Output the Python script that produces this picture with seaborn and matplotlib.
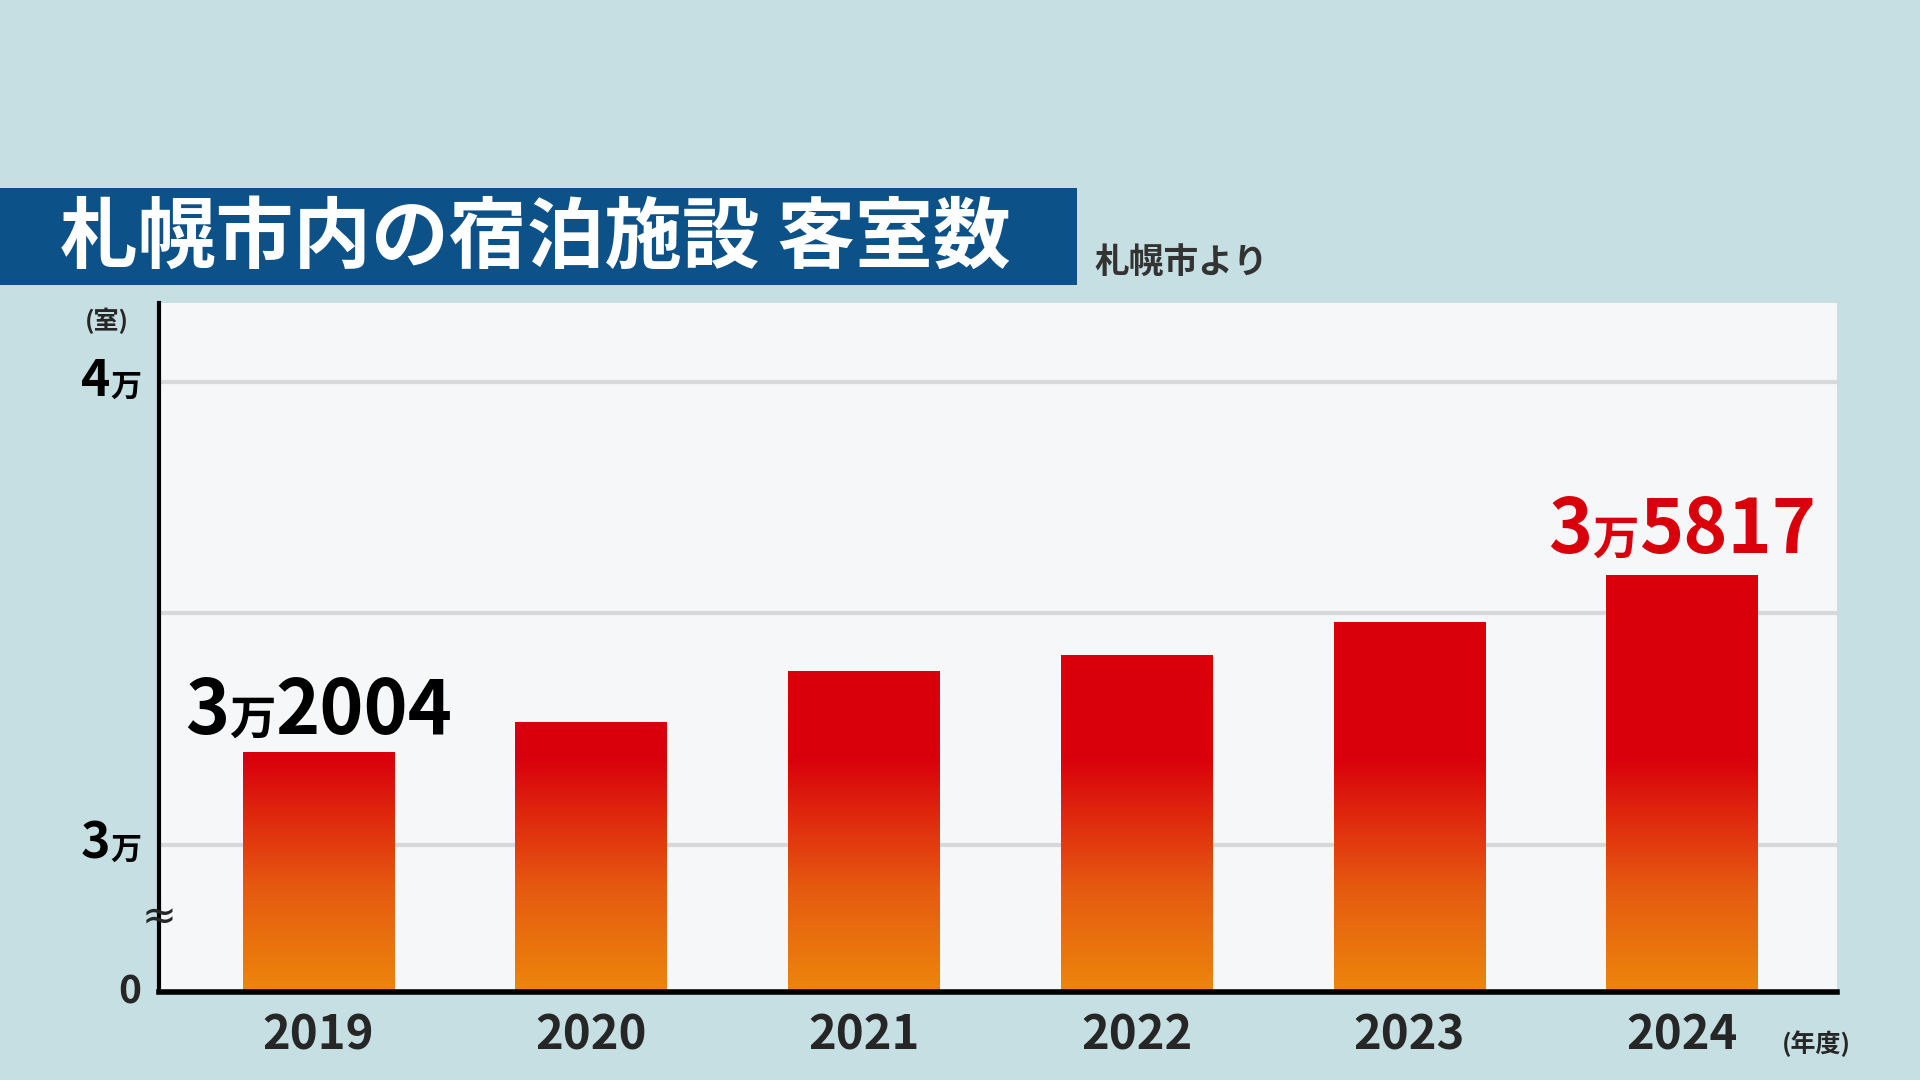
import numpy as np
import pandas as pd
import matplotlib
matplotlib.use("Agg")
import matplotlib.pyplot as plt
from matplotlib.colors import LinearSegmentedColormap
import seaborn as sns

years = ["2019", "2020", "2021", "2022", "2023", "2024"]
rooms = [32004, 32650, 33760, 34100, 34815, 35817]

sns.set_style("white")
plt.rcParams['font.family'] = ['Noto Sans CJK JP', 'DejaVu Sans']

BG = "#c5dfe3"
RED = "#d9000c"
K = 120 / 378.0  # compressed height of 0-3万 segment (in 万 units)


def fwd(v):
    v = np.asarray(v, dtype=float)
    return np.where(v <= 30000, v / 30000 * K, K + (v - 30000) / 10000)


def inv(u):
    u = np.asarray(u, dtype=float)
    return np.where(u <= K, u / K * 30000, 30000 + (u - K) * 10000)


fig = plt.figure(figsize=(19.2, 10.8), dpi=100, facecolor=BG)
ax = fig.add_axes([0.083, 0.0816, 0.874, 0.6374])
ax.set_facecolor("#f5f7f8")

df = pd.DataFrame({"year": years, "rooms": rooms})
sns.barplot(data=df, x="year", y="rooms", color=RED, width=0.556, ax=ax)
ax.set_yscale("function", functions=(fwd, inv))
ax.set_ylim(0, float(inv(K + 1.169)))
ax.set_xlim(-0.584, 5.57)

for g in [30000, 35000, 40000]:
    ax.axhline(g, color="#d6d8da", lw=3, zorder=0)

# gradient fill clipped to each bar
cmap = LinearSegmentedColormap.from_list(
    "g", [(0, "#ec860c"), (0.15, "#e65a10"), (0.34, "#d9000c"), (1, "#d9000c")])
grad = np.linspace(0, 1, 256).reshape(-1, 1)
for p in ax.patches:
    p.set_edgecolor("none")
    im = ax.imshow(grad, cmap=cmap, aspect="auto", origin="lower",
                   extent=[0, 1, 0, 1], transform=ax.transAxes, zorder=2)
    im.set_clip_path(p)

for s in ["top", "right"]:
    ax.spines[s].set_visible(False)
ax.spines["left"].set_linewidth(3)
ax.spines["bottom"].set_linewidth(4)
ax.spines["left"].set_color("black")
ax.spines["bottom"].set_color("black")
ax.set_yticks([])
ax.set_xlabel("")
ax.set_ylabel("")
ax.tick_params(axis="x", length=0, pad=14)
for t in ax.get_xticklabels():
    t.set_fontsize(34)
    t.set_fontweight("bold")

fig.canvas.draw()


def num_man(x, y, big, small, rest, size, color, ha="left"):
    # draws e.g. "3" + small "万" + "5817" side by side, x/y in pixels
    r = fig.canvas.get_renderer()
    parts = [(big, size), (small, size * 0.62), (rest, size)]
    widths = []
    for s, fs in parts:
        t = fig.text(0, 0, s, fontsize=fs, fontweight="bold")
        widths.append(t.get_window_extent(r).width)
        t.remove()
    total = sum(widths)
    x0 = x
    if ha == "right":
        x0 -= total
    elif ha == "center":
        x0 -= total / 2
    for (s, fs), w in zip(parts, widths):
        fig.text(x0 / fig.bbox.width, y / fig.bbox.height, s, fontsize=fs,
                 fontweight="bold", color=color, va="baseline")
        x0 += w


# y tick labels
for v, big in [(30000, "3"), (40000, "4")]:
    xd, yd = ax.transData.transform((-0.584, v))
    num_man(xd - 18, yd - 14, big, "万", "", 36, "black", ha="right")
xd, yd = ax.transData.transform((-0.584, 0))
fig.text((xd - 18) / 1920, yd / 1080, "0", fontsize=28, fontweight="bold", ha="right", va="center")
xd, yd = ax.transData.transform((-0.584, float(inv(0.16))))
fig.text(xd / 1920, yd / 1080, "≈", fontsize=30, ha="center", va="center", family="DejaVu Sans")
fig.text(0.044, 0.695, "(室)", fontsize=18, fontweight="bold")
fig.text(0.928, 0.026, "(年度)", fontsize=18, fontweight="bold")

# value labels
xd, yd = ax.transData.transform((0, rooms[0]))
num_man(xd, yd + 18, "3", "万", "2004", 54, "black", ha="center")
xd, yd = ax.transData.transform((5, rooms[5]))
num_man(xd, yd + 22, "3", "万", "5817", 54, RED, ha="center")

# title banner
fig.patches.append(plt.Rectangle((0, 0.736), 0.561, 0.09, transform=fig.transFigure,
                                 facecolor="#0d5189", edgecolor="none"))
fig.text(0.031, 0.779, "札幌市内の宿泊施設 客室数", fontsize=56, fontweight="bold",
         color="white", va="center")
fig.text(0.570, 0.757, "札幌市より", fontsize=25, fontweight="bold", color="#333333", va="center")

fig.savefig("out.png", dpi=100, facecolor=BG)
